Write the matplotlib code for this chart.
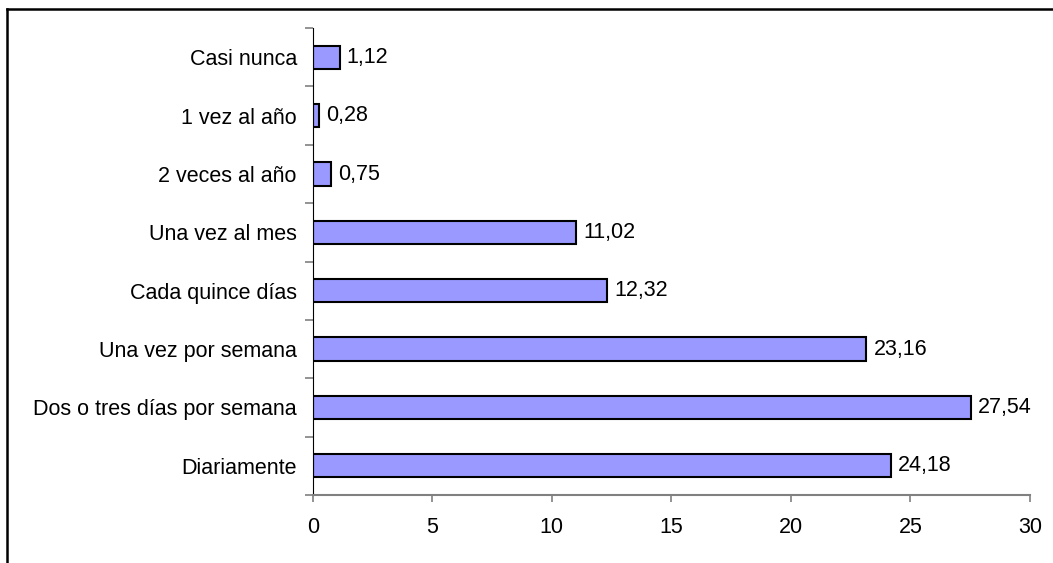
import matplotlib.pyplot as plt
from matplotlib.lines import Line2D
import numpy as np

plt.rcParams['font.family'] = ['Liberation Sans', 'DejaVu Sans']

# Datos (de abajo hacia arriba)
categorias = ['Diariamente', 'Dos o tres días por semana', 'Una vez por semana',
              'Cada quince días', 'Una vez al mes', '2 veces al año',
              '1 vez al año', 'Casi nunca']
valores = [24.18, 27.54, 23.16, 12.32, 11.02, 0.75, 0.28, 1.12]
ticks_x = [0, 5, 10, 15, 20, 25, 30]

fig = plt.figure(figsize=(10.53, 5.63), dpi=100)
ax = fig.add_axes([0.297, 0.121, 0.681, 0.829])

y = np.arange(len(categorias))
ax.barh(y, valores, height=0.4, color='#9999FF', edgecolor='black', linewidth=1.5)

for yi, v in zip(y, valores):
    ax.text(v + 0.3, yi, f'{v:.2f}'.replace('.', ','), va='center', ha='left', fontsize=15.5)

ax.set_xlim(0, 30)
ax.set_ylim(-0.5, len(categorias) - 0.5)
ax.set_xticks(ticks_x)
ax.set_xticklabels([str(t) for t in ticks_x], fontsize=15.5)
ax.set_yticks(y)
ax.set_yticklabels(categorias, fontsize=15.5)
ax.set_yticks(np.arange(-0.5, len(categorias)), minor=True)

ax.tick_params(axis='y', which='major', length=0, pad=11.5)
ax.tick_params(axis='y', which='minor', length=6, color='#808080', width=1.2)
ax.tick_params(axis='x', length=5, color='#808080', width=1.2, pad=11)

ax.spines['top'].set_visible(False)
ax.spines['right'].set_visible(False)
ax.spines['left'].set_color('black')
ax.spines['bottom'].set_color('#808080')
ax.spines['bottom'].set_linewidth(1.5)

# marco de la figura (cortado a la derecha y abajo)
top = 1 - 9 / 563
left = 7 / 1053
fig.add_artist(Line2D([left, 1.0], [top, top], color='black', linewidth=1.8))
fig.add_artist(Line2D([left, left], [0.0, top], color='black', linewidth=1.8))

fig.savefig('out.png', dpi=100)
